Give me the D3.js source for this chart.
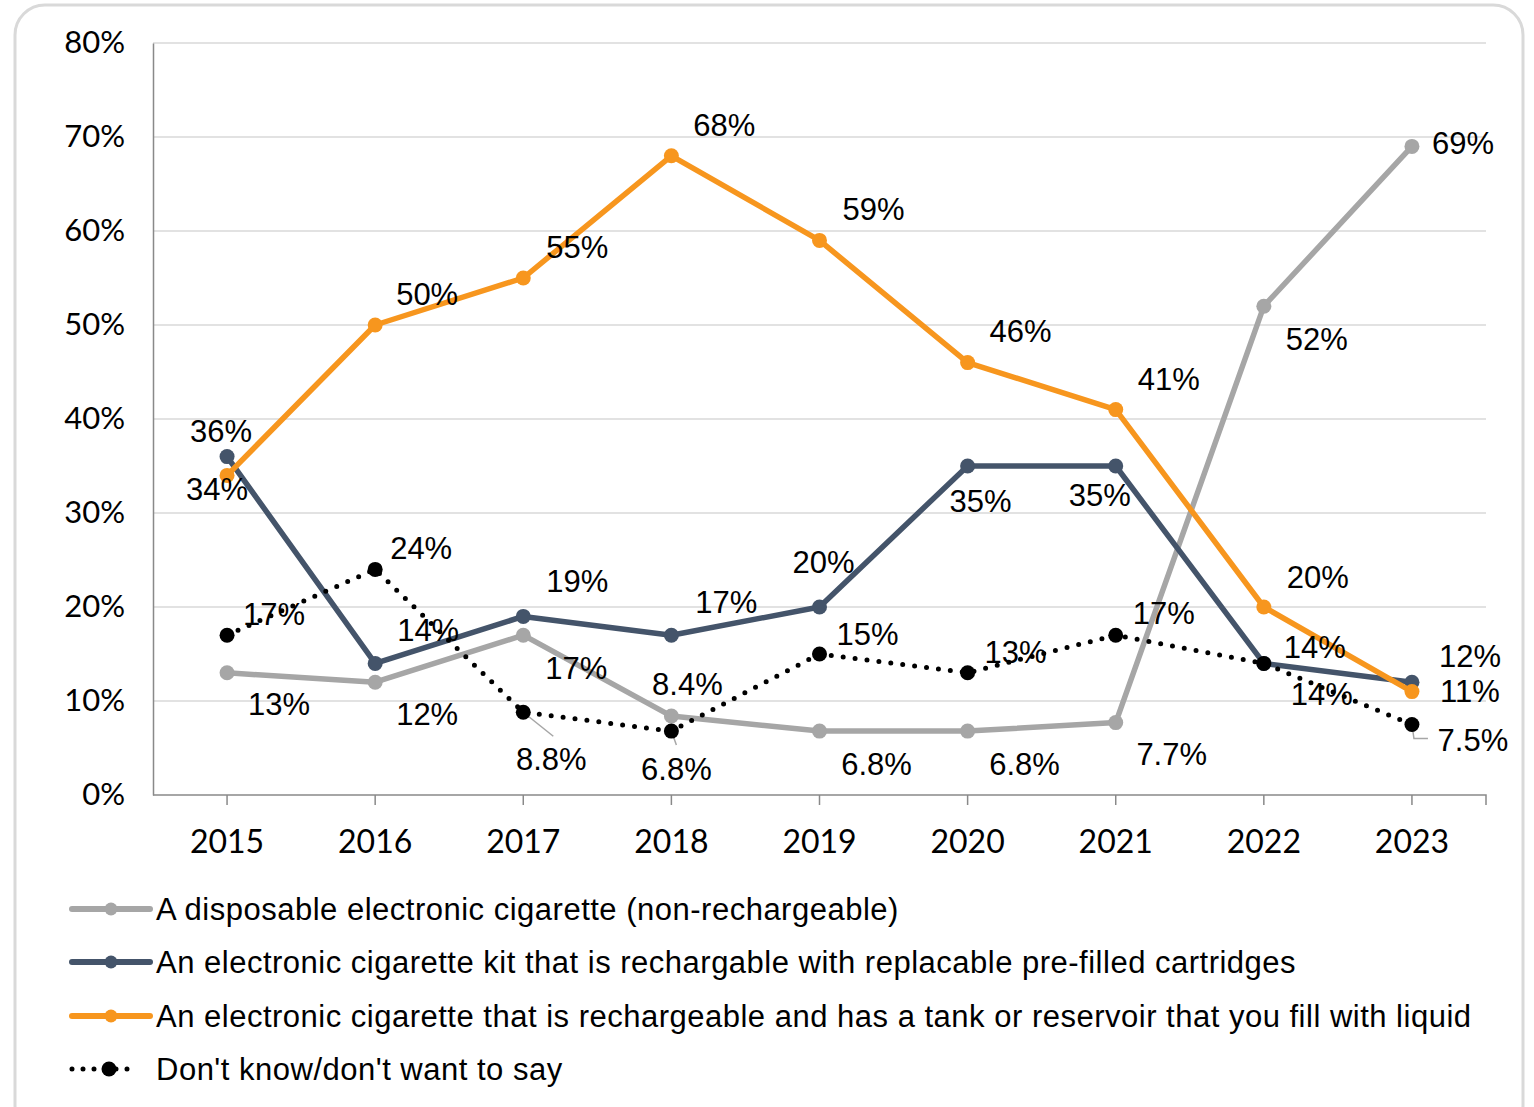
<!DOCTYPE html>
<html>
<head>
<meta charset="utf-8">
<script src="https://cdn.jsdelivr.net/npm/d3@7"></script>
<style>
  html, body { margin: 0; padding: 0; background: #fff; }
  svg { display: block; }
</style>
</head>
<body>
<svg id="chart" width="1534" height="1107"></svg>
<script>
// Survey years
const years = ["2015", "2016", "2017", "2018", "2019", "2020", "2021", "2022", "2023"];

// Share of respondents (%) by device type
const disposable = [13, 12, 17, 8.4, 6.8, 6.8, 7.7, 52, 69];
const prefilled  = [36, 14, 19, 17, 20, 35, 35, 14, 12];
const tank       = [34, 50, 55, 68, 59, 46, 41, 20, 11];
const dontKnow   = [17, 24, 8.8, 6.8, 15, 13, 17, 14, 7.5];

const seriesNames = [
  "A disposable electronic cigarette (non-rechargeable)",
  "An electronic cigarette kit that is rechargable with replacable pre-filled cartridges",
  "An electronic cigarette that is rechargeable and has a tank or reservoir that you fill with liquid",
  "Don't know/don't want to say"
];

const yTicks = [0, 10, 20, 30, 40, 50, 60, 70, 80];

// Label placement (dx, dy from the point), one row per series
const labelOffsets = [
  [[52, 32], [52, 32], [53, 33], [16, -32], [57, 33], [57, 33], [56, 32], [53, 33], [51, -3]],
  [[-6, -25], [53, -33], [54, -35], [55, -33], [4, -45], [13, 35], [-16, 29], [51, -16], [58, -26]],
  [[-10, 14], [52, -31], [54, -31], [53, -30], [54, -31], [53, -31], [53, -30], [54, -30], [58, 0]],
  [[47, -21], [46, -21], [28, 47], [5, 38], [48, -20], [48, -20], [48, -22], [58, 31], [61, 16]]
];

const svg = d3.select("#chart");

// Rounded outer frame
svg.append("rect")
  .attr("x", 15).attr("y", 5)
  .attr("width", 1508).attr("height", 1130)
  .attr("rx", 30).attr("ry", 30)
  .attr("fill", "#fff").attr("stroke", "#d9d9d9").attr("stroke-width", 3);

const plot = { left: 153, right: 1486, top: 43, bottom: 795 };

const x = d3.scaleBand().domain(years).range([plot.left, plot.right]);
const xc = d => x(d) + x.bandwidth() / 2;
const y = d3.scaleLinear().domain([0, 80]).range([plot.bottom, plot.top]);

// Gridlines
svg.append("g").selectAll("line").data(yTicks.filter(t => t > 0)).join("line")
  .attr("x1", plot.left).attr("x2", plot.right)
  .attr("y1", d => y(d)).attr("y2", d => y(d))
  .attr("stroke", "#d9d9d9").attr("stroke-width", 1.5);

// Y axis
const yAxis = svg.append("g")
  .attr("transform", `translate(${plot.left},0)`)
  .call(d3.axisLeft(y).tickValues(yTicks).tickFormat(d => d + "%").tickSize(0).tickPadding(28));
yAxis.select(".domain").attr("stroke", "#898989").attr("stroke-width", 1.5);
yAxis.selectAll("text")
  .attr("font-family", "Lato, 'Liberation Sans', sans-serif")
  .attr("font-size", 31).attr("fill", "#000");

// X axis
const xAxis = svg.append("g")
  .attr("transform", `translate(0,${plot.bottom})`)
  .call(d3.axisBottom(x).tickSize(10).tickPadding(25));
xAxis.select(".domain").attr("stroke", "#898989").attr("stroke-width", 1.5)
  .attr("d", `M${plot.left},0H${plot.right}V10`);
xAxis.selectAll(".tick line").attr("stroke", "#898989").attr("stroke-width", 1.5);
xAxis.selectAll("text")
  .attr("font-family", "Lato, 'Liberation Sans', sans-serif")
  .attr("font-size", 32).attr("fill", "#000");

const series = [
  { values: disposable, color: "#a6a6a6", dotted: false },
  { values: prefilled,  color: "#44546a", dotted: false },
  { values: tank,       color: "#f7961e", dotted: false },
  { values: dontKnow,   color: "#000000", dotted: true }
];

const line = d3.line().x((d, i) => xc(years[i])).y(d => y(d));

// Leader lines for labels placed away from their points
const leaders = svg.append("g").attr("stroke", "#a6a6a6").attr("stroke-width", 1.5).attr("fill", "none");
leaders.append("path").attr("d", `M${xc("2017")},${y(dontKnow[2])}L${xc("2017") + 30},${y(dontKnow[2]) + 24}`);
leaders.append("path").attr("d", `M${xc("2018")},${y(dontKnow[3])}L${xc("2018") + 5},${y(dontKnow[3]) + 14}`);
leaders.append("path").attr("d", `M${xc("2023")},${y(dontKnow[8])}L${xc("2023") + 2},${y(dontKnow[8]) + 14}H${xc("2023") + 16}`);

series.forEach(s => {
  const g = svg.append("g");
  g.append("path")
    .attr("d", line(s.values))
    .attr("fill", "none")
    .attr("stroke", s.color)
    .attr("stroke-width", s.dotted ? 5 : 5.5)
    .attr("stroke-linecap", "round")
    .attr("stroke-linejoin", "round")
    .attr("stroke-dasharray", s.dotted ? "0,12" : null);
  g.selectAll("circle").data(s.values).join("circle")
    .attr("cx", (d, i) => xc(years[i]))
    .attr("cy", d => y(d))
    .attr("r", 7.5)
    .attr("fill", s.color);
});

// Data labels
series.forEach((s, si) => {
  svg.append("g").selectAll("text").data(s.values).join("text")
    .attr("x", (d, i) => xc(years[i]) + labelOffsets[si][i][0])
    .attr("y", (d, i) => y(d) + labelOffsets[si][i][1])
    .attr("text-anchor", "middle")
    .attr("dominant-baseline", "central")
    .attr("font-family", "'Liberation Sans', Arial, sans-serif")
    .attr("font-size", 31)
    .attr("fill", "#000")
    .text(d => d + "%");
});

// Legend
const legendY = [909, 962, 1016, 1069];
const legend = svg.append("g");
series.forEach((s, i) => {
  const g = legend.append("g").attr("transform", `translate(0,${legendY[i]})`);
  if (s.dotted) {
    g.append("line").attr("x1", 72).attr("x2", 138).attr("y1", 0).attr("y2", 0)
      .attr("stroke", "#000").attr("stroke-width", 5).attr("stroke-linecap", "round")
      .attr("stroke-dasharray", "0,11");
    g.append("circle").attr("cx", 109).attr("cy", 0).attr("r", 7.5).attr("fill", "#000");
  } else {
    g.append("line").attr("x1", 72).attr("x2", 150).attr("y1", 0).attr("y2", 0)
      .attr("stroke", s.color).attr("stroke-width", 6).attr("stroke-linecap", "round");
    g.append("circle").attr("cx", 111).attr("cy", 0).attr("r", 6.5).attr("fill", s.color);
  }
  g.append("text")
    .attr("x", 156).attr("y", 0)
    .attr("dominant-baseline", "central")
    .attr("font-family", "'Liberation Sans', Arial, sans-serif")
    .attr("font-size", 31)
    .attr("letter-spacing", 0.5)
    .attr("fill", "#000")
    .text(seriesNames[i]);
});
</script>
</body>
</html>
